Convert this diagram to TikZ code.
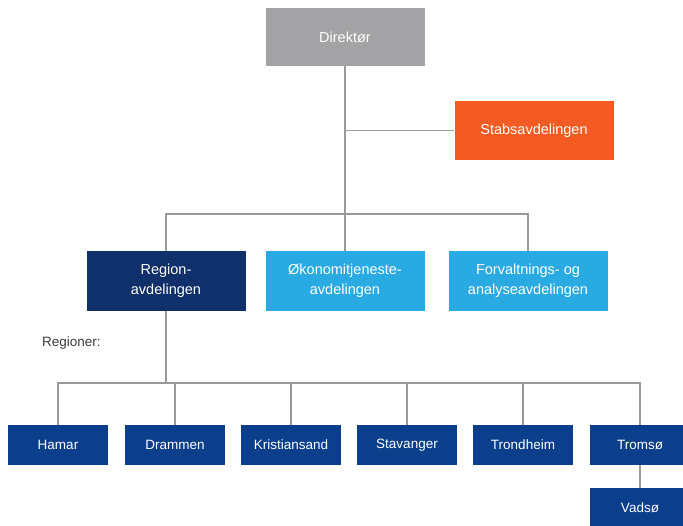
\documentclass[tikz,border=0pt]{standalone}
\usepackage{fontspec}
\setmainfont{Liberation Sans}
\definecolor{dirgray}{HTML}{A3A3A6}
\definecolor{stabor}{HTML}{F35B22}
\definecolor{navy}{HTML}{10306B}
\definecolor{lblue}{HTML}{2AAAE2}
\definecolor{cityblue}{HTML}{0B3F8C}
\definecolor{linegray}{HTML}{9A9A9A}
\definecolor{txtgray}{HTML}{3A3A3A}
\begin{document}
\begin{tikzpicture}[x=1pt,y=-1pt,
  box/.style={draw=none,inner sep=2pt,align=center,text=white,font=\fontsize{14.5}{20}\selectfont},
  bigbox/.style={box,minimum width=159pt,minimum height=60pt},
  citybox/.style={box,fill=cityblue,minimum width=100pt,minimum height=40pt,font=\fontsize{13.5}{16}\selectfont},
  conn/.style={draw=linegray,line width=1.4pt}]
\useasboundingbox (0,0) rectangle (683,525);
\node[bigbox,fill=dirgray,minimum height=58pt] (dir) at (345,37) {Direktør};
\node[bigbox,fill=stabor,minimum height=59pt] (stabs) at (534,130.5) {Stabsavdelingen};
\node[bigbox,fill=navy] (reg) at (166,281) {Region-\\avdelingen};
\node[bigbox,fill=lblue] (oko) at (345,281) {Økonomitjeneste-\\avdelingen};
\node[bigbox,fill=lblue] (forv) at (528,281) {Forvaltnings- og\\analyseavdelingen};
\node[anchor=west,inner sep=0pt,text=txtgray,font=\fontsize{13.5}{16}\selectfont] (regtxt) at (42,343) {Regioner:};
\node[citybox] (hamar) at (58,445) {Hamar};
\node[citybox] (drammen) at (175,445) {Drammen};
\node[citybox] (krist) at (291,445) {Kristiansand};
\node[citybox] (stav) at (407,445) {Stavanger};
\node[citybox] (trond) at (523,445) {Trondheim};
\node[citybox] (tromso) at (640,445) {Tromsø};
\node[citybox] (vadso) at (640,508) {Vadsø};
\coordinate (bar) at (166,214);
\coordinate (cbar) at (166,383);
\draw[conn] (dir.south) -- (oko.north);
\draw[conn] (dir.south |- stabs.west) -- (stabs.west);
\draw[conn] (reg.north) -- (bar) -- (bar -| forv.north) -- (forv.north);
\draw[conn] (reg.south) -- (cbar);
\draw[conn] (hamar.north) |- (cbar);
\draw[conn] (tromso.north) |- (cbar);
\draw[conn] (drammen.north) -- (drammen.north |- cbar);
\draw[conn] (krist.north) -- (krist.north |- cbar);
\draw[conn] (stav.north) -- (stav.north |- cbar);
\draw[conn] (trond.north) -- (trond.north |- cbar);
\draw[conn] (tromso.south) -- (vadso.north);
\end{tikzpicture}
\end{document}
